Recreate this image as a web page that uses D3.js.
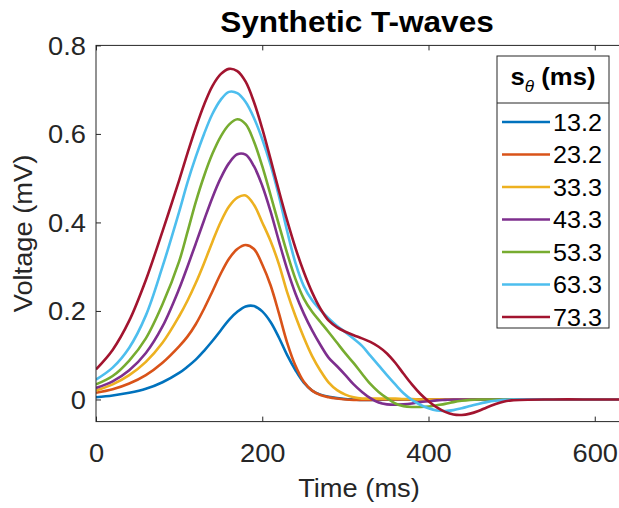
<!DOCTYPE html>
<html>
<head>
<meta charset="utf-8">
<script src="https://cdn.jsdelivr.net/npm/d3@7"></script>
<style>
  body { margin: 0; background: #fff; }
  svg { font-family: "Liberation Sans", Arial, Helvetica, sans-serif; }
</style>
</head>
<body>
<svg id="chart" width="619" height="508"></svg>
<script>
// time samples (ms), shared by all series
var times = [0, 20, 40, 60, 80,
  100, 110, 120, 130, 140, 150, 160, 170, 180, 190,
  200, 210, 220, 230, 240, 250, 260, 270, 280, 290,
  300, 310, 320, 330, 340, 350, 360, 370, 380, 390,
  400, 410, 420, 430, 440, 450, 460, 470, 480, 490,
  500, 550, 600, 630];

var legendNames = ["13.2", "23.2", "33.3", "43.3", "53.3", "63.3", "73.3"];
var colors = ["#0072BD", "#D95319", "#EDB120", "#7E2F8E", "#77AC30", "#4DBEEE", "#A2142F"];

// voltage (mV)
var s13 = [.005, .009, .015, .024, .039,
  .060, .074, .090, .110, .132, .156, .180, .198, .210, .211,
  .199, .175, .140, .100, .066, .038, .020, .011, .006, .003,
  .001, 0, -.001, -.001, -.001, 0, 0, 0, 0, 0,
  0, 0, 0, 0, 0, 0, 0, 0, 0, 0,
  0, 0, 0, 0];
var s23 = [.015, .023, .036, .055, .083,
  .120, .142, .170, .205, .244, .284, .318, .340, .349, .340,
  .305, .258, .195, .128, .076, .040, .020, .010, .005, .002,
  0, -.001, -.001, -.001, 0, 0, 0, 0, 0, 0,
  0, 0, 0, 0, 0, 0, 0, 0, 0, 0,
  0, 0, 0, 0];
var s33 = [.020, .034, .055, .085, .128,
  .188, .223, .263, .308, .356, .401, .436, .456, .461, .440,
  .400, .358, .306, .242, .188, .140, .098, .065, .038, .021,
  .011, .005, .002, .002, .002, .002, .002, .001, .001, 0,
  0, 0, 0, 0, 0, 0, 0, 0, 0, 0,
  0, 0, 0, 0];
var s43 = [.026, .041, .066, .105, .165,
  .250, .300, .352, .405, .456, .500, .534, .554, .553, .527,
  .483, .425, .358, .294, .239, .194, .156, .123, .094, .075,
  .055, .034, .017, .003, -.007, -.011, -.012, -.011, -.009, -.006,
  -.004, -.002, -.001, 0, 0, 0, 0, 0, 0, 0,
  0, 0, 0, 0];
var s53 = [.034, .053, .088, .138, .215,
  .312, .378, .446, .505, .555, .594, .621, .633, .622, .583,
  .527, .462, .395, .330, .272, .228, .198, .175, .152, .128,
  .104, .082, .058, .035, .017, .003, -.009, -.015, -.017, -.017,
  -.016, -.013, -.010, -.006, -.003, -.001, 0, 0, 0, 0,
  0, 0, 0, 0];
var s63 = [.045, .072, .117, .190, .300,
  .424, .490, .548, .600, .645, .677, .695, .692, .672, .636,
  .588, .530, .460, .380, .308, .256, .224, .202, .183, .166,
  .152, .137, .121, .099, .077, .055, .034, .014, -.001, -.012,
  -.020, -.025, -.026, -.024, -.020, -.015, -.010, -.006, -.003, -.001,
  0, 0, 0, 0];
var s73 = [.068, .112, .178, .270, .380,
  .495, .556, .614, .666, .708, .735, .747, .742, .718, .672,
  .612, .543, .472, .404, .342, .288, .242, .205, .178, .163,
  .153, .145, .138, .130, .119, .104, .083, .058, .034, .013,
  -.004, -.018, -.028, -.034, -.035, -.032, -.026, -.018, -.011, -.005,
  -.002, 0, 0, 0];
var allSeries = [s13, s23, s33, s43, s53, s63, s73];

var xTicks = [0, 200, 400, 600];
var yTicks = [0, 0.2, 0.4, 0.6, 0.8];
var yTickLabels = ["0", "0.2", "0.4", "0.6", "0.8"];

var axisColor = "#262626";
var sx = 1.07; // text in the figure is a little wider than Arial

var svg = d3.select("#chart");
var pLeft = 96, pRight = 619.7, pTop = 45.4, pBottom = 421.6;

var x = d3.scaleLinear().domain([0, 630]).range([pLeft, pRight]);
var y = d3.scaleLinear().domain([-0.05, 0.8]).range([pBottom, pTop]);

svg.append("rect").attr("width", 619).attr("height", 508).attr("fill", "#fff");

// clip so the lines stay in the axes
svg.append("clipPath").attr("id", "plotclip")
  .append("rect")
  .attr("x", pLeft).attr("y", pTop)
  .attr("width", pRight - pLeft).attr("height", pBottom - pTop);

// curves
var line = d3.line()
  .x(function(d) { return x(d[0]); })
  .y(function(d) { return y(d[1]); })
  .curve(d3.curveCatmullRom.alpha(0.5));

var plot = svg.append("g").attr("clip-path", "url(#plotclip)");
for (var k = 0; k < allSeries.length; k++) {
  var pts = times.map(function(t, i) { return [t, allSeries[k][i]]; });
  plot.append("path")
    .attr("d", line(pts))
    .attr("fill", "none")
    .attr("stroke", colors[k])
    .attr("stroke-width", 2.6)
    .attr("stroke-linejoin", "round");
}

// axes box
svg.append("rect")
  .attr("x", pLeft).attr("y", pTop)
  .attr("width", pRight - pLeft).attr("height", pBottom - pTop)
  .attr("fill", "none")
  .attr("stroke", axisColor)
  .attr("stroke-width", 1);

function styleAxis(g) {
  g.attr("font-size", null).attr("font-family", null);
  g.select(".domain").remove();
  g.selectAll(".tick line").attr("stroke", axisColor);
  g.selectAll("text").attr("fill", axisColor).style("font-size", "25.5px");
}

var gx = svg.append("g")
  .attr("transform", "translate(0," + pBottom + ")")
  .call(d3.axisBottom(x).tickValues(xTicks).tickSizeInner(-5).tickSizeOuter(0).tickFormat(d3.format("d")));
styleAxis(gx);
gx.selectAll("text")
  .attr("y", 0).attr("dy", 0)
  .attr("transform", "translate(0,40.5) scale(" + sx + ",1)");

var gxTop = svg.append("g")
  .attr("transform", "translate(0," + pTop + ")")
  .call(d3.axisTop(x).tickValues(xTicks).tickSizeInner(-5).tickSizeOuter(0).tickFormat(""));
styleAxis(gxTop);

var gy = svg.append("g")
  .attr("transform", "translate(" + pLeft + ",0)")
  .call(d3.axisLeft(y).tickValues(yTicks).tickSizeInner(-5).tickSizeOuter(0)
    .tickFormat(function(d, i) { return yTickLabels[i]; }));
styleAxis(gy);
gy.selectAll("text")
  .attr("x", 0).attr("dy", "0.34em")
  .attr("transform", "translate(-10,0) scale(" + sx + ",1)");

// title and axis labels
svg.append("text")
  .attr("transform", "translate(357,32) scale(" + sx + ",1)")
  .attr("text-anchor", "middle")
  .attr("font-weight", "bold")
  .attr("font-size", 29.5)
  .attr("fill", "#000")
  .text("Synthetic T-waves");

svg.append("text")
  .attr("transform", "translate(359,497) scale(" + sx + ",1)")
  .attr("text-anchor", "middle")
  .attr("font-size", 25.5)
  .attr("fill", axisColor)
  .text("Time (ms)");

svg.append("text")
  .attr("transform", "translate(32," + ((pTop + pBottom) / 2) + ") rotate(-90) scale(" + sx + ",1)")
  .attr("text-anchor", "middle")
  .attr("font-size", 25.5)
  .attr("fill", axisColor)
  .text("Voltage (mV)");

// legend
var lg = svg.append("g");
var lgX = 497, lgY = 56, lgW = 112, lgH = 272, lgHead = 47;
lg.append("rect")
  .attr("x", lgX).attr("y", lgY).attr("width", lgW).attr("height", lgH)
  .attr("fill", "#fff").attr("stroke", axisColor).attr("stroke-width", 1);
lg.append("line")
  .attr("x1", lgX).attr("x2", lgX + lgW)
  .attr("y1", lgY + lgHead).attr("y2", lgY + lgHead)
  .attr("stroke", axisColor).attr("stroke-width", 1);

var head = lg.append("text")
  .attr("transform", "translate(" + (lgX + lgW / 2) + ",85) scale(" + sx + ",1)")
  .attr("text-anchor", "middle")
  .attr("font-size", 24)
  .attr("fill", "#000");
head.append("tspan").attr("font-weight", "bold").text("s");
head.append("tspan").attr("font-style", "italic").attr("font-size", 16).attr("dy", 7).text("\u03b8");
head.append("tspan").attr("font-weight", "bold").attr("dy", -7).text(" (ms)");

for (var j = 0; j < legendNames.length; j++) {
  var ly = 122 + j * 32.5;
  lg.append("line")
    .attr("x1", 502).attr("x2", 550)
    .attr("y1", ly).attr("y2", ly)
    .attr("stroke", colors[j]).attr("stroke-width", 2.6);
  lg.append("text")
    .attr("transform", "translate(553," + (ly + 8.5) + ") scale(" + sx + ",1)")
    .attr("font-size", 23.5)
    .attr("fill", "#000")
    .text(legendNames[j]);
}
</script>
</body>
</html>
